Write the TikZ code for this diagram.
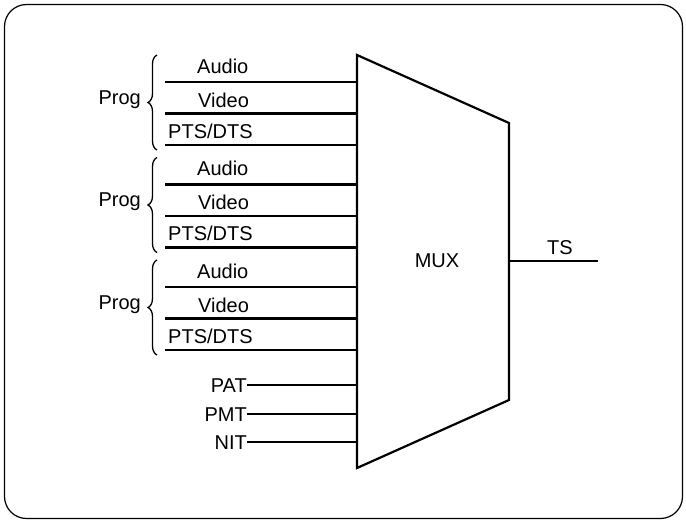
\documentclass[tikz,border=0pt]{standalone}
\usepackage{fontspec}
\setmainfont{Liberation Sans}
\usetikzlibrary{positioning, decorations.pathreplacing, calc}

\begin{document}
\begin{tikzpicture}[x=1pt, y=-1pt,
    every node/.style={font=\fontsize{20}{24}\selectfont, inner sep=0pt},
    feed/.style={line width=2.4pt},
    progbrace/.style={decorate, decoration={brace, amplitude=9pt}, line width=1.3pt}]
  \useasboundingbox (0,0) rectangle (686,521);
  % frame
  \draw[line width=1.2pt, rounded corners=22pt] (4.5,4.5) rectangle (682.5,518.5);
  % mux
  \coordinate (mtl) at (357,55);
  \coordinate (mtr) at (509,123);
  \coordinate (mbr) at (509,400);
  \coordinate (mbl) at (357,468);
  \draw[line width=2.2pt, line join=miter] (mtl) -- (mtr) -- (mbr) -- (mbl) -- cycle;
  \node[anchor=base] (mux) at (437,268) {MUX};
  % output
  \coordinate (tsl) at (509,261);
  \coordinate (tsr) at (598,261);
  \draw[feed] (tsl) -- (tsr);
  \node[anchor=base] (ts) at (560,255) {TS};
  % prog 1
  \coordinate (a1) at (165,82);
  \coordinate (v1) at (165,113.5);
  \coordinate (p1) at (165,145);
  \draw[feed] (a1) -- (a1 -| mtl);
  \draw[feed] (v1) -- (v1 -| mtl);
  \draw[feed] (p1) -- (p1 -| mtl);
  \node[anchor=base west] (audio1) at (197,73.5) {Audio};
  \node[anchor=base west] (video1) at (198,107.5) {Video};
  \node[anchor=base west] (pts1) at (168,138.5) {PTS/DTS};
  \coordinate (b1t) at (157,55);
  \coordinate (b1b) at (157,150);
  \draw[progbrace] (b1b) -- (b1t);
  \node[anchor=base east] (prog1) at (141,104.5) {Prog};
  % prog 2
  \coordinate (a2) at (165,184.5);
  \coordinate (v2) at (165,216);
  \coordinate (p2) at (165,247.5);
  \draw[feed] (a2) -- (a2 -| mtl);
  \draw[feed] (v2) -- (v2 -| mtl);
  \draw[feed] (p2) -- (p2 -| mtl);
  \node[anchor=base west] (audio2) at (197,176) {Audio};
  \node[anchor=base west] (video2) at (198,210) {Video};
  \node[anchor=base west] (pts2) at (168,241) {PTS/DTS};
  \coordinate (b2t) at (157,157.5);
  \coordinate (b2b) at (157,252.5);
  \draw[progbrace] (b2b) -- (b2t);
  \node[anchor=base east] (prog2) at (141,207) {Prog};
  % prog 3
  \coordinate (a3) at (165,287);
  \coordinate (v3) at (165,318.5);
  \coordinate (p3) at (165,350);
  \draw[feed] (a3) -- (a3 -| mtl);
  \draw[feed] (v3) -- (v3 -| mtl);
  \draw[feed] (p3) -- (p3 -| mtl);
  \node[anchor=base west] (audio3) at (197,278.5) {Audio};
  \node[anchor=base west] (video3) at (198,312.5) {Video};
  \node[anchor=base west] (pts3) at (168,343.5) {PTS/DTS};
  \coordinate (b3t) at (157,260);
  \coordinate (b3b) at (157,355);
  \draw[progbrace] (b3b) -- (b3t);
  \node[anchor=base east] (prog3) at (141,309.5) {Prog};
  % tables
  \node[anchor=base east] (pat) at (247,393) {PAT};
  \node[anchor=base east] (pmt) at (247,421.5) {PMT};
  \node[anchor=base east] (nit) at (247,449.5) {NIT};
  \draw[feed] (pat.east |- 0,385) -- (mtl |- 0,385);
  \draw[feed] (pmt.east |- 0,414) -- (mtl |- 0,414);
  \draw[feed] (nit.east |- 0,442) -- (mtl |- 0,442);
\end{tikzpicture}
\end{document}
